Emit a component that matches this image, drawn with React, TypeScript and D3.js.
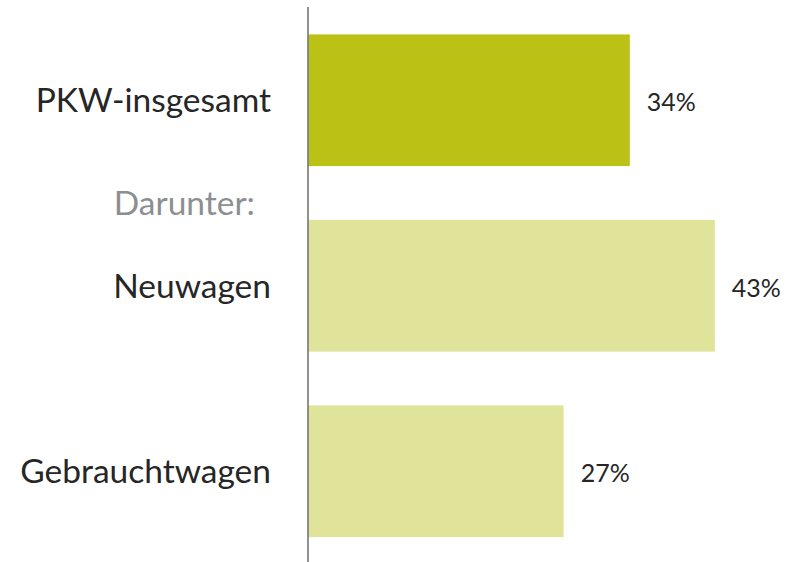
import React from "react";
import * as d3 from "d3";

const categories = ["PKW-insgesamt", "Neuwagen", "Gebrauchtwagen"];
const values = [34, 43, 27];
const barColors = ["#BBC215", "#E0E39A", "#E0E39A"];
const subLabel = "Darunter:";

const W = 787;
const H = 562;

export default function App() {
  const x = d3.scaleLinear().domain([0, 100]).range([308.5, 308.5 + 945]);
  const y = d3
    .scaleBand<string>()
    .domain(categories)
    .range([7.5, 564])
    .paddingInner(0.29)
    .paddingOuter(0.145);
  const font = "Lato, 'Open Sans', sans-serif";
  return (
    <svg
      width={W}
      height={H}
      style={{ position: "absolute", left: 0, top: 0, background: "#fff" }}
    >
      {categories.map((c, i) => {
        const y0 = y(c)!;
        const bh = y.bandwidth();
        const cy = y0 + bh / 2;
        return (
          <g key={c}>
            <rect
              x={x(0)}
              y={y0}
              width={x(values[i]) - x(0)}
              height={bh}
              fill={barColors[i]}
            />
            <text
              x={x(values[i]) + 17}
              y={cy + 11}
              fontFamily={font}
              fontSize={25}
              fill="#262626"
            >
              {values[i]}%
            </text>
            <text
              x={271}
              y={cy + 12}
              textAnchor="end"
              fontFamily={font}
              fontSize={33.5}
              fill="#262626"
            >
              {c}
            </text>
          </g>
        );
      })}
      <text
        x={255}
        y={(y(categories[0])! + y.bandwidth() + y(categories[1])!) / 2 + 22}
        textAnchor="end"
        fontFamily={font}
        fontSize={33.5}
        fill="#8C8F91"
      >
        {subLabel}
      </text>
      <line x1={308} x2={308} y1={7} y2={H} stroke="#555" strokeWidth={1.3} />
    </svg>
  );
}
